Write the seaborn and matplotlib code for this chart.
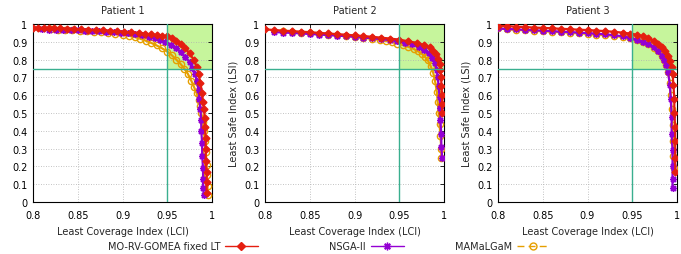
import numpy as np
import pandas as pd
import seaborn as sns
import matplotlib.pyplot as plt
from matplotlib.patches import Rectangle
from matplotlib.lines import Line2D

# --- data (LCI, LSI) ---
PATIENTS = ["Patient 1", "Patient 2", "Patient 3"]
ALGOS = ["MO-RV-GOMEA fixed LT", "NSGA-II", "MAMaLGaM"]

p1_gomea_lci = [0.800, 0.806, 0.812, 0.818, 0.824, 0.830, 0.838, 0.846, 0.854, 0.862, 0.870, 0.878, 0.886, 0.894, 0.902, 0.910, 0.918, 0.925, 0.932, 0.938, 0.944, 0.950, 0.955, 0.960, 0.965, 0.970, 0.975, 0.980, 0.983, 0.985, 0.987, 0.989, 0.990, 0.991, 0.992, 0.992, 0.993, 0.993, 0.993, 0.994, 0.994, 0.994]
p1_gomea_lsi = [0.980, 0.979, 0.978, 0.977, 0.976, 0.975, 0.974, 0.972, 0.970, 0.968, 0.966, 0.964, 0.962, 0.959, 0.956, 0.953, 0.950, 0.946, 0.942, 0.938, 0.934, 0.930, 0.922, 0.905, 0.888, 0.865, 0.835, 0.795, 0.760, 0.720, 0.670, 0.610, 0.560, 0.520, 0.470, 0.420, 0.360, 0.300, 0.230, 0.170, 0.110, 0.050]
p1_nsga_lci = [0.810, 0.818, 0.826, 0.834, 0.842, 0.850, 0.858, 0.866, 0.874, 0.882, 0.890, 0.898, 0.906, 0.914, 0.922, 0.930, 0.936, 0.942, 0.948, 0.954, 0.960, 0.965, 0.970, 0.975, 0.978, 0.981, 0.983, 0.985, 0.986, 0.987, 0.988, 0.988, 0.989, 0.989, 0.990, 0.990, 0.990, 0.991]
p1_nsga_lsi = [0.970, 0.969, 0.968, 0.967, 0.966, 0.965, 0.963, 0.961, 0.959, 0.957, 0.955, 0.952, 0.948, 0.943, 0.936, 0.928, 0.920, 0.910, 0.898, 0.884, 0.865, 0.840, 0.815, 0.785, 0.755, 0.720, 0.680, 0.630, 0.580, 0.520, 0.460, 0.400, 0.330, 0.260, 0.190, 0.130, 0.080, 0.040]
p1_mama_lci = [0.820, 0.828, 0.836, 0.844, 0.852, 0.860, 0.868, 0.876, 0.884, 0.892, 0.900, 0.907, 0.914, 0.920, 0.926, 0.932, 0.938, 0.944, 0.950, 0.955, 0.960, 0.965, 0.969, 0.973, 0.977, 0.980, 0.983, 0.985, 0.987, 0.988, 0.990, 0.991, 0.992, 0.993, 0.994, 0.994, 0.995, 0.995]
p1_mama_lsi = [0.970, 0.968, 0.966, 0.964, 0.962, 0.960, 0.957, 0.954, 0.950, 0.946, 0.941, 0.934, 0.926, 0.917, 0.906, 0.894, 0.880, 0.864, 0.845, 0.825, 0.800, 0.775, 0.750, 0.720, 0.680, 0.645, 0.610, 0.575, 0.540, 0.500, 0.450, 0.400, 0.340, 0.280, 0.210, 0.150, 0.090, 0.040]

p2_gomea_lci = [0.800, 0.810, 0.820, 0.830, 0.840, 0.850, 0.860, 0.870, 0.880, 0.890, 0.900, 0.910, 0.920, 0.930, 0.940, 0.950, 0.960, 0.970, 0.978, 0.984, 0.988, 0.991, 0.993, 0.995, 0.996, 0.997, 0.997, 0.998, 0.998, 0.998]
p2_gomea_lsi = [0.970, 0.966, 0.963, 0.960, 0.957, 0.954, 0.950, 0.947, 0.943, 0.940, 0.936, 0.932, 0.928, 0.923, 0.918, 0.912, 0.903, 0.893, 0.882, 0.868, 0.850, 0.830, 0.805, 0.775, 0.740, 0.700, 0.650, 0.600, 0.550, 0.500]
p2_nsga_lci = [0.810, 0.820, 0.830, 0.840, 0.850, 0.860, 0.870, 0.880, 0.890, 0.900, 0.910, 0.920, 0.930, 0.940, 0.948, 0.956, 0.964, 0.972, 0.978, 0.983, 0.987, 0.990, 0.992, 0.993, 0.994, 0.995, 0.996, 0.996, 0.997, 0.997, 0.998]
p2_nsga_lsi = [0.955, 0.952, 0.950, 0.947, 0.944, 0.941, 0.938, 0.935, 0.932, 0.928, 0.924, 0.920, 0.915, 0.909, 0.903, 0.895, 0.885, 0.870, 0.855, 0.835, 0.810, 0.780, 0.740, 0.700, 0.650, 0.590, 0.530, 0.460, 0.380, 0.310, 0.250]
p2_mama_lci = [0.820, 0.830, 0.840, 0.850, 0.860, 0.870, 0.880, 0.890, 0.900, 0.910, 0.920, 0.928, 0.935, 0.942, 0.948, 0.954, 0.960, 0.966, 0.971, 0.975, 0.979, 0.982, 0.985, 0.988, 0.990, 0.992, 0.993, 0.994, 0.995, 0.996, 0.997, 0.997]
p2_mama_lsi = [0.960, 0.956, 0.952, 0.949, 0.945, 0.941, 0.937, 0.933, 0.928, 0.923, 0.917, 0.911, 0.905, 0.898, 0.890, 0.882, 0.872, 0.860, 0.847, 0.833, 0.815, 0.795, 0.765, 0.725, 0.680, 0.620, 0.560, 0.500, 0.440, 0.370, 0.300, 0.250]

p3_gomea_lci = [0.800, 0.810, 0.820, 0.830, 0.840, 0.850, 0.860, 0.870, 0.880, 0.890, 0.900, 0.910, 0.920, 0.930, 0.940, 0.948, 0.955, 0.962, 0.968, 0.974, 0.979, 0.983, 0.987, 0.990, 0.992, 0.994, 0.995, 0.996, 0.997, 0.997, 0.998, 0.998, 0.998, 0.998]
p3_gomea_lsi = [0.990, 0.988, 0.985, 0.983, 0.980, 0.978, 0.976, 0.973, 0.971, 0.968, 0.966, 0.963, 0.960, 0.956, 0.951, 0.946, 0.940, 0.930, 0.920, 0.906, 0.890, 0.872, 0.850, 0.820, 0.790, 0.760, 0.720, 0.660, 0.580, 0.500, 0.420, 0.340, 0.250, 0.170]
p3_nsga_lci = [0.800, 0.810, 0.820, 0.830, 0.840, 0.850, 0.860, 0.870, 0.880, 0.890, 0.900, 0.910, 0.920, 0.930, 0.940, 0.948, 0.955, 0.962, 0.968, 0.974, 0.979, 0.983, 0.986, 0.988, 0.990, 0.992, 0.993, 0.994, 0.994, 0.995, 0.995, 0.995, 0.995]
p3_nsga_lsi = [0.975, 0.972, 0.970, 0.967, 0.965, 0.962, 0.960, 0.957, 0.955, 0.952, 0.949, 0.946, 0.942, 0.937, 0.930, 0.922, 0.912, 0.900, 0.886, 0.868, 0.846, 0.822, 0.795, 0.770, 0.730, 0.660, 0.580, 0.480, 0.380, 0.290, 0.200, 0.130, 0.080]
p3_mama_lci = [0.800, 0.810, 0.820, 0.830, 0.840, 0.850, 0.860, 0.870, 0.880, 0.890, 0.900, 0.910, 0.920, 0.930, 0.940, 0.948, 0.955, 0.962, 0.968, 0.974, 0.979, 0.983, 0.986, 0.988, 0.990, 0.992, 0.993, 0.994, 0.995, 0.996, 0.996, 0.997]
p3_mama_lsi = [0.975, 0.971, 0.968, 0.965, 0.962, 0.960, 0.957, 0.954, 0.951, 0.948, 0.945, 0.941, 0.938, 0.933, 0.927, 0.920, 0.910, 0.898, 0.885, 0.867, 0.846, 0.822, 0.795, 0.770, 0.730, 0.670, 0.600, 0.520, 0.430, 0.340, 0.260, 0.190]

FRONTS = {
    "Patient 1": [(p1_gomea_lci, p1_gomea_lsi), (p1_nsga_lci, p1_nsga_lsi), (p1_mama_lci, p1_mama_lsi)],
    "Patient 2": [(p2_gomea_lci, p2_gomea_lsi), (p2_nsga_lci, p2_nsga_lsi), (p2_mama_lci, p2_mama_lsi)],
    "Patient 3": [(p3_gomea_lci, p3_gomea_lsi), (p3_nsga_lci, p3_nsga_lsi), (p3_mama_lci, p3_mama_lsi)],
}

LCI_LIMIT = 0.95
LSI_LIMIT = 0.75

# gnuplot-like styles
COLORS = ["#e51e10", "#9400d3", "#e69f00"]
MARKERS = ["D", (8, 2, 0), "o"]
MSIZE = [3.5, 5.0, 4.5]

sns.set_theme(style="white")
plt.rcParams['font.family'] = ['DejaVu Sans']
plt.rcParams['font.size'] = 7

fig = plt.figure(figsize=(6.81, 2.55), dpi=100)
lefts = [33 / 681, 265 / 681, 498 / 681]

for i, patient in enumerate(PATIENTS):
    ax = fig.add_axes([lefts[i], 52 / 255, 179 / 681, 178 / 255])
    ax.add_patch(Rectangle((LCI_LIMIT, LSI_LIMIT), 1 - LCI_LIMIT, 1 - LSI_LIMIT,
                           facecolor="#c6f59c", edgecolor="none", zorder=0))
    ax.grid(True, color="#b0b0b0", linestyle=(0, (1, 2)), linewidth=0.6)
    ax.set_axisbelow(True)

    # draw the fronts in reverse so the red one sits on top
    for k in [2, 1, 0]:
        lci, lsi = FRONTS[patient][k]
        df = pd.DataFrame({"LCI": lci, "LSI": lsi})
        sns.lineplot(data=df, x="LCI", y="LSI", sort=False, estimator=None, ax=ax,
                     color=COLORS[k], linewidth=1.6, marker=MARKERS[k], markersize=MSIZE[k],
                     markerfacecolor=(COLORS[k] if k != 2 else "none"),
                     markeredgecolor=COLORS[k], markeredgewidth=1.0, zorder=3 + (2 - k))

    ax.axvline(LCI_LIMIT, color="#3aaf8f", linewidth=1.0, zorder=6)
    ax.axhline(LSI_LIMIT, color="#3aaf8f", linewidth=1.0, zorder=6)

    ax.set_xlim(0.8, 1.0)
    ax.set_ylim(0, 1)
    ax.set_xticks([0.8, 0.85, 0.9, 0.95, 1.0])
    ax.set_xticklabels(["0.8", "0.85", "0.9", "0.95", "1"])
    ax.set_yticks(np.arange(0, 1.01, 0.1))
    ax.set_yticklabels(["0", "0.1", "0.2", "0.3", "0.4", "0.5", "0.6", "0.7", "0.8", "0.9", "1"])
    ax.tick_params(direction="in", top=True, right=True, length=3, width=0.6,
                   labelsize=7, colors="black")
    ax.tick_params(axis="x", pad=6)
    ax.tick_params(axis="y", pad=4)
    for s in ax.spines.values():
        s.set_color("black")
        s.set_linewidth(0.8)

    ax.set_title(patient, fontsize=7, pad=8)
    ax.set_xlabel("Least Coverage Index (LCI)", fontsize=7, labelpad=4)
    if i == 0:
        ax.set_ylabel("")
    else:
        ax.set_ylabel("Least Safe Index (LSI)", fontsize=7, labelpad=4)

# legend: text then sample, like gnuplot, one entry per slot
legend_right = [258 / 681, 404 / 681, 550 / 681]
for k in range(3):
    h = Line2D([0], [0], color=COLORS[k], linewidth=1.0, marker=MARKERS[k],
               markersize=MSIZE[k] + 0.5,
               markerfacecolor=(COLORS[k] if k != 2 else "none"),
               markeredgecolor=COLORS[k],
               linestyle=("-" if k != 2 else (0, (5, 3))))
    fig.legend([h], [ALGOS[k]], loc="center right", bbox_to_anchor=(legend_right[k], 8 / 255),
               frameon=False, markerfirst=False, fontsize=7, handlelength=3.4,
               handletextpad=0.5, borderpad=0, borderaxespad=0)

fig.savefig("out.png", dpi=100)
